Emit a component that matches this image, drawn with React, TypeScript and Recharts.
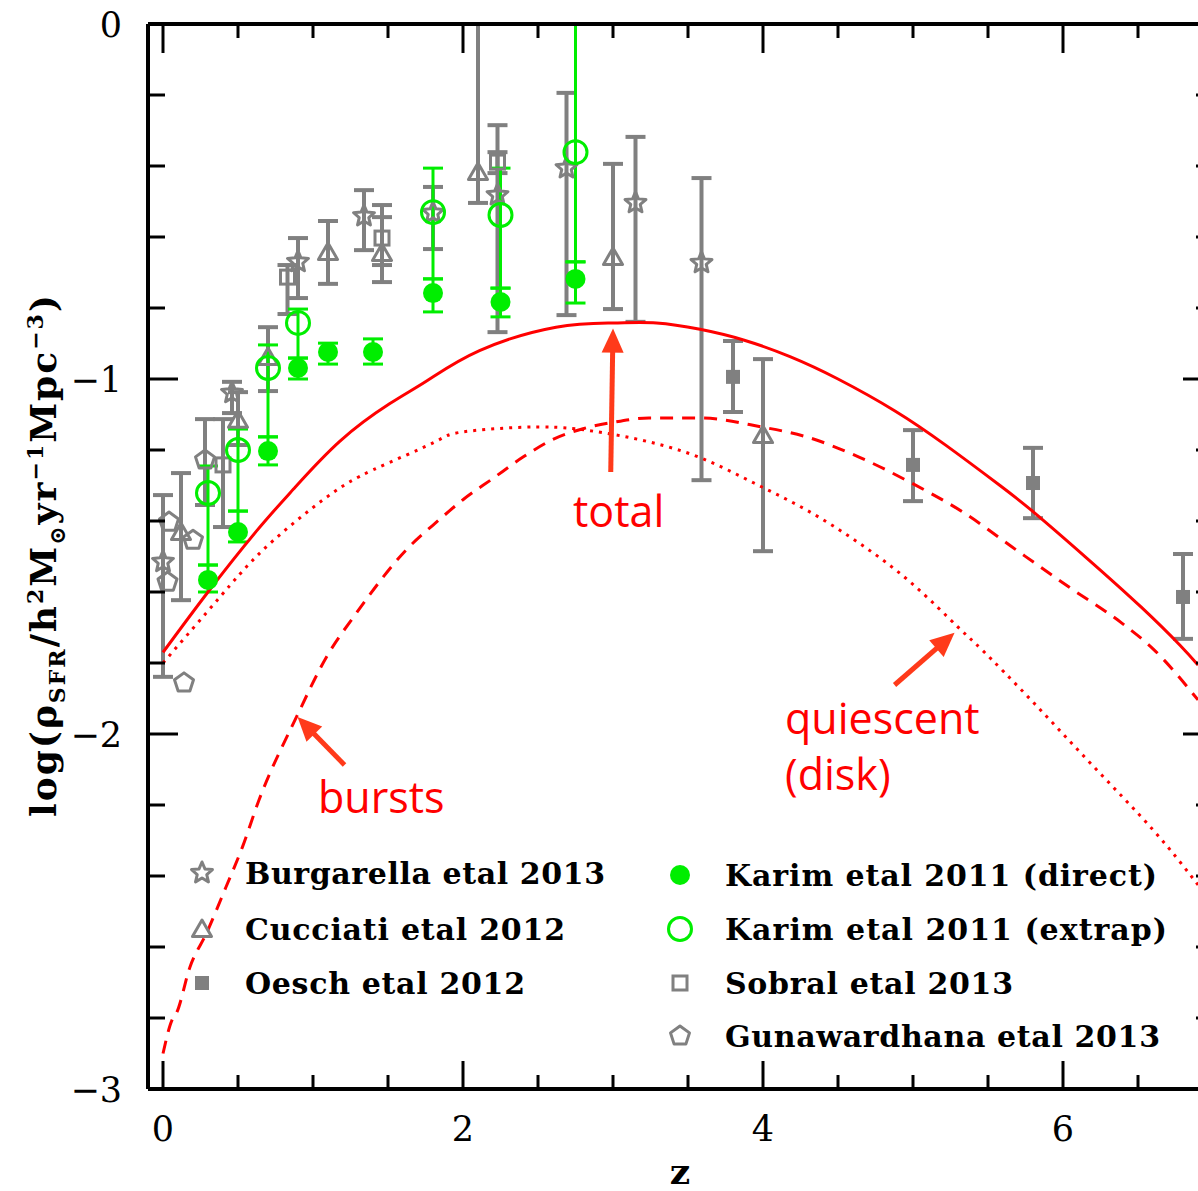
import React from 'react'
import { ComposedChart, Scatter, Line, XAxis, YAxis, ErrorBar, ReferenceLine } from 'recharts'

const GRAY = '#808080'
const GREEN = '#00ee00'
const RED = '#ff0000'
const ARROW = '#ff3a1a'

// axis ticks
const xTicks = [0, 0.5, 1, 1.5, 2, 2.5, 3, 3.5, 4, 4.5, 5, 5.5, 6, 6.5]
const xLabels = ['0', '2', '4', '6']
const yTicks = [-3, -2.8, -2.6, -2.4, -2.2, -2, -1.8, -1.6, -1.4, -1.2, -1, -0.8, -0.6, -0.4, -0.2, 0]
const yLabels = ['−3', '−2', '−1', '0']

// Burgarella etal 2013
const burgZ = [0.0, 0.46, 0.9, 1.34, 1.8, 2.23, 2.69, 3.15, 3.59]
const burgY = [-1.515, -1.039, -0.67, -0.541, -0.532, -0.482, -0.406, -0.504, -0.673]
const burgLo = [-1.839, -1.096, -0.772, -0.637, -0.634, -0.868, -0.82, -0.839, -1.285]
const burgHi = [-1.327, -1.008, -0.603, -0.468, -0.459, -0.285, -0.194, -0.318, -0.434]

// Cucciati etal 2012
const cucZ = [0.12, 0.5, 0.7, 1.1, 1.46, 2.1, 3.0, 4.0]
const cucY = [-1.431, -1.115, -0.938, -0.642, -0.645, -0.417, -0.656, -1.158]
const cucLo = [-1.623, -1.186, -1.034, -0.732, -0.679, -0.504, -0.803, -1.485]
const cucHi = [-1.265, -1.037, -0.854, -0.555, -0.544, 0, -0.394, -0.944]

// Oesch etal 2012
const oeschZ = [3.8, 5.0, 5.8, 6.8]
const oeschY = [-0.994, -1.242, -1.293, -1.614]
const oeschLo = [-1.093, -1.344, -1.392, -1.732]
const oeschHi = [-0.893, -1.144, -1.194, -1.493]

// Sobral etal 2013
const sobZ = [0.4, 0.83, 1.46, 2.23]
const sobY = [-1.242, -0.713, -0.603, -0.389]
const sobLo = [-1.417, -0.817, -0.727, -0.42]
const sobHi = [-1.113, -0.679, -0.51, -0.361]

// Gunawardhana etal 2013
const gunZ = [0.04, 0.03, 0.14, 0.2]
const gunY = [-1.403, -1.572, -1.856, -1.454]
const gunErrZ = [0.28]
const gunErrY = [-1.228]
const gunErrLo = [-1.355]
const gunErrHi = [-1.113]

// Karim etal 2011 (direct)
const kdZ = [0.3, 0.5, 0.7, 0.9, 1.1, 1.4, 1.8, 2.25, 2.75]
const kdY = [-1.566, -1.431, -1.203, -0.969, -0.924, -0.924, -0.758, -0.783, -0.718]
const kdLo = [-1.6, -1.459, -1.242, -1.0, -0.958, -0.958, -0.811, -0.825, -0.786]
const kdHi = [-1.524, -1.372, -1.163, -0.941, -0.899, -0.887, -0.718, -0.744, -0.67]

// Karim etal 2011 (extrap)
const keZ = [0.3, 0.5, 0.7, 0.9, 1.8, 2.25, 2.75]
const keY = [-1.321, -1.2, -0.969, -0.842, -0.53, -0.538, -0.361]
const keLo = [-1.524, -1.372, -1.163, -0.941, -0.718, -0.744, -0.67]
const keHi = [-1.245, -1.141, -0.904, -0.803, -0.406, -0.406, 0]

// model curves
const totalZ = [0, 0.3, 0.62, 0.87, 1.18, 1.51, 1.76, 2.11, 2.62, 3.0, 3.29, 3.58, 3.87, 4.18, 4.5, 4.88, 5.22, 5.58, 5.81, 6.16, 6.52, 6.78, 6.9]
const totalY = [-1.77, -1.6, -1.43, -1.31, -1.175, -1.07, -1.005, -0.92, -0.854, -0.842, -0.842, -0.86, -0.89, -0.937, -1.0, -1.09, -1.187, -1.3, -1.377, -1.505, -1.642, -1.75, -1.806]
const quietZ = [0, 0.38, 0.62, 0.87, 1.13, 1.4, 1.8, 2.0, 2.5, 2.9, 3.24, 3.59, 3.94, 4.29, 4.64, 4.99, 5.3, 5.46, 5.8, 6.2, 6.6, 6.9]
const quietY = [-1.8, -1.614, -1.501, -1.406, -1.321, -1.256, -1.18, -1.149, -1.135, -1.149, -1.177, -1.223, -1.293, -1.369, -1.462, -1.575, -1.699, -1.763, -1.91, -2.09, -2.27, -2.425]
const burstZ = [0, 0.06, 0.09, 0.18, 0.29, 0.42, 0.53, 0.64, 0.89, 1.09, 1.29, 1.62, 1.84, 2.0, 2.2, 2.4, 2.6, 2.8, 3.0, 3.24, 3.59, 3.99, 4.29, 4.64, 4.99, 5.34, 5.69, 6.04, 6.39, 6.6, 6.9]
const burstY = [-2.9, -2.806, -2.786, -2.656, -2.561, -2.431, -2.318, -2.186, -1.952, -1.783, -1.659, -1.482, -1.397, -1.34, -1.28, -1.22, -1.17, -1.14, -1.122, -1.11, -1.11, -1.135, -1.163, -1.22, -1.293, -1.377, -1.482, -1.586, -1.687, -1.76, -1.904]

// annotation arrows: [tail, tip]
const totalArrow = [{ x: 2.985, y: -1.262 }, { x: 3.0, y: -0.858 }]
const burstArrow = [{ x: 1.21, y: -2.087 }, { x: 0.897, y: -1.952 }]
const quietArrow = [{ x: 4.877, y: -1.862 }, { x: 5.277, y: -1.715 }]

const pts = (z: number[], y: number[], lo?: number[], hi?: number[]) =>
  z.map((zz, i) => ({
    z: zz,
    y: y[i],
    err: lo && hi ? [y[i] - lo[i], hi[i] - y[i]] : undefined,
  }))

const line = (z: number[], y: number[]) => z.map((zz, i) => ({ z: zz, y: y[i] }))

// symbols
const polyPts = (cx: number, cy: number, n: number, rOut: number, rIn?: number) => {
  const out: string[] = []
  const k = rIn ? n * 2 : n
  for (let i = 0; i < k; i++) {
    const r = rIn && i % 2 === 1 ? rIn : rOut
    const a = -Math.PI / 2 + (i * 2 * Math.PI) / k
    out.push(`${cx + r * Math.cos(a)},${cy + r * Math.sin(a)}`)
  }
  return out.join(' ')
}

const StarSym = ({ cx, cy }: any) => (
  <polygon points={polyPts(cx, cy, 5, 11, 5)} fill="none" stroke={GRAY} strokeWidth={3} strokeLinejoin="round" />
)
const TriSym = ({ cx, cy }: any) => (
  <polygon points={polyPts(cx, cy + 2, 3, 11)} fill="none" stroke={GRAY} strokeWidth={3} strokeLinejoin="round" />
)
const FSqSym = ({ cx, cy }: any) => <rect x={cx - 7} y={cy - 7} width={14} height={14} fill={GRAY} />
const OSqSym = ({ cx, cy }: any) => (
  <rect x={cx - 7} y={cy - 7} width={14} height={14} fill="none" stroke={GRAY} strokeWidth={3} />
)
const PentSym = ({ cx, cy }: any) => (
  <polygon points={polyPts(cx, cy, 5, 10)} fill="none" stroke={GRAY} strokeWidth={3} strokeLinejoin="round" />
)
const FCircSym = ({ cx, cy }: any) => <circle cx={cx} cy={cy} r={10} fill={GREEN} />
const OCircSym = ({ cx, cy }: any) => <circle cx={cx} cy={cy} r={11.5} fill="none" stroke={GREEN} strokeWidth={3} />

const ArrowShape = (props: any) => {
  const { x1, y1, x2, y2 } = props
  const dx = x2 - x1
  const dy = y2 - y1
  const len = Math.sqrt(dx * dx + dy * dy)
  const ux = dx / len
  const uy = dy / len
  const hl = 24
  const hw = 11
  const bx = x2 - ux * hl
  const by = y2 - uy * hl
  return (
    <g>
      <line x1={x1} y1={y1} x2={bx + ux * 4} y2={by + uy * 4} stroke={ARROW} strokeWidth={5} />
      <polygon
        points={`${x2},${y2} ${bx - uy * hw},${by + ux * hw} ${bx + uy * hw},${by - ux * hw}`}
        fill={ARROW}
      />
    </g>
  )
}

const isMajor = (v: number) => Math.abs(v - Math.round(v)) < 1e-6
const TICK_FONT = '"DejaVu Serif", serif'

const BottomTick = ({ x, y, payload }: any) => {
  const v = payload.value
  const major = isMajor(v) && Math.round(v) % 2 === 0
  return (
    <g>
      <line x1={x} y1={y} x2={x} y2={y - (major ? 28 : 14)} stroke="#000" strokeWidth={3} />
      {major && (
        <text x={x} y={y + 52} textAnchor="middle" fontSize={35} fontFamily={TICK_FONT} fill="#000">
          {xLabels[Math.round(v) / 2]}
        </text>
      )}
    </g>
  )
}
const TopTick = ({ x, y, payload }: any) => {
  const v = payload.value
  const major = isMajor(v) && Math.round(v) % 2 === 0
  return <line x1={x} y1={y} x2={x} y2={y + (major ? 29 : 14)} stroke="#000" strokeWidth={3} />
}
const LeftTick = ({ x, y, payload }: any) => {
  const v = payload.value
  const major = isMajor(v)
  return (
    <g>
      <line x1={x} y1={y} x2={x + (major ? 30 : 17)} y2={y} stroke="#000" strokeWidth={3} />
      {major && (
        <text x={x - 26} y={y + 13} textAnchor="end" fontSize={35} fontFamily={TICK_FONT} fill="#000">
          {yLabels[Math.round(v) + 3]}
        </text>
      )}
    </g>
  )
}
const RightTick = ({ x, y, payload }: any) => {
  const major = isMajor(payload.value)
  return <line x1={x} y1={y} x2={x - (major ? 30 : 17)} y2={y} stroke="#000" strokeWidth={3} />
}

const LEG_FONT = '"DejaVu Serif", serif'
const legendLeft = [
  { label: 'Burgarella etal 2013', Sym: StarSym, y: 873, w: 360 },
  { label: 'Cucciati etal 2012', Sym: TriSym, y: 929, w: 320 },
  { label: 'Oesch etal 2012', Sym: FSqSym, y: 983, w: 280 },
]
const legendRight = [
  { label: 'Karim etal 2011 (direct)', Sym: FCircSym, y: 875, w: 432 },
  { label: 'Karim etal 2011 (extrap)', Sym: OCircSym, y: 929, w: 442 },
  { label: 'Sobral etal 2013', Sym: OSqSym, y: 983, w: 288 },
  { label: 'Gunawardhana etal 2013', Sym: PentSym, y: 1036, w: 435 },
]

const Overlay = () => (
  <svg width={1198} height={1191} style={{ position: 'absolute', left: 0, top: 0, pointerEvents: 'none' }}>
    {legendLeft.map(({ label, Sym, y, w }) => (
      <g key={label}>
        <Sym cx={202} cy={y} />
        <text x={245} y={y + 11} fontSize={30} fontWeight="bold" fontFamily={LEG_FONT} textLength={w} lengthAdjust="spacing">
          {label}
        </text>
      </g>
    ))}
    {legendRight.map(({ label, Sym, y, w }) => (
      <g key={label}>
        <Sym cx={680} cy={y} />
        <text x={725} y={y + 11} fontSize={30} fontWeight="bold" fontFamily={LEG_FONT} textLength={w} lengthAdjust="spacing">
          {label}
        </text>
      </g>
    ))}
    <text x={680} y={1184} textAnchor="middle" fontSize={36} fontWeight="bold" fontFamily={TICK_FONT}>z</text>
    <text
      transform="translate(56,555) rotate(-90)"
      textAnchor="middle"
      fontSize={36}
      fontWeight="bold"
      letterSpacing={2}
      fontFamily={TICK_FONT}
    >
      log(ρ<tspan fontSize={22} dy={9}>SFR</tspan>
      <tspan dy={-9}>/h</tspan>
      <tspan fontSize={22} dy={-13}>2</tspan>
      <tspan dy={13}>M</tspan>
      <tspan fontSize={22} dy={9}>⊙</tspan>
      <tspan dy={-9}>yr</tspan>
      <tspan fontSize={22} dy={-13}>−1</tspan>
      <tspan dy={13}>Mpc</tspan>
      <tspan fontSize={22} dy={-13}>−3</tspan>
      <tspan dy={13}>)</tspan>
    </text>
    <g fill={RED} fontFamily='"Open Sans", sans-serif' fontSize={43}>
      <text x={573} y={527}>total</text>
      <text x={318} y={813}>bursts</text>
      <text x={785} y={734}>quiescent</text>
      <text x={785} y={790}>(disk)</text>
    </g>
  </svg>
)

export default function App() {
  return (
    <div style={{ position: 'absolute', left: 0, top: 0, width: 1198, height: 1191, overflow: 'hidden', background: '#fff' }}>
      <ComposedChart width={1240} height={1191} margin={{ top: 23, right: 7, bottom: 0, left: 0 }}>
        <XAxis
          xAxisId="b"
          type="number"
          dataKey="z"
          domain={[-0.1, 7]}
          allowDataOverflow
          ticks={xTicks}
          interval={0}
          height={102}
          tickSize={0}
          tickMargin={0}
          tickLine={false}
          tick={BottomTick}
          axisLine={{ stroke: '#000', strokeWidth: 4 }}
        />
        <XAxis
          xAxisId="t"
          orientation="top"
          type="number"
          dataKey="z"
          domain={[-0.1, 7]}
          allowDataOverflow
          ticks={xTicks}
          interval={0}
          height={1}
          tickSize={0}
          tickMargin={0}
          tickLine={false}
          tick={TopTick}
          axisLine={{ stroke: '#000', strokeWidth: 4 }}
        />
        <YAxis
          yAxisId="l"
          type="number"
          dataKey="y"
          domain={[-3, 0]}
          allowDataOverflow
          ticks={yTicks}
          interval={0}
          width={148}
          tickSize={0}
          tickMargin={0}
          tickLine={false}
          tick={LeftTick}
          axisLine={{ stroke: '#000', strokeWidth: 4 }}
        />
        <YAxis
          yAxisId="r"
          orientation="right"
          type="number"
          dataKey="y"
          domain={[-3, 0]}
          allowDataOverflow
          ticks={yTicks}
          interval={0}
          width={20}
          tickSize={0}
          tickMargin={0}
          tickLine={false}
          tick={RightTick}
          axisLine={{ stroke: '#000', strokeWidth: 4 }}
        />

        <Scatter xAxisId="b" yAxisId="l" data={pts(gunZ, gunY)} dataKey="y" shape={PentSym} isAnimationActive={false} />
        <Scatter xAxisId="b" yAxisId="l" data={pts(gunErrZ, gunErrY, gunErrLo, gunErrHi)} dataKey="y" shape={PentSym} isAnimationActive={false}>
          <ErrorBar dataKey="err" direction="y" width={10} stroke={GRAY} strokeWidth={4} isAnimationActive={false} />
        </Scatter>
        <Scatter xAxisId="b" yAxisId="l" data={pts(burgZ, burgY, burgLo, burgHi)} dataKey="y" shape={StarSym} isAnimationActive={false}>
          <ErrorBar dataKey="err" direction="y" width={10} stroke={GRAY} strokeWidth={4} isAnimationActive={false} />
        </Scatter>
        <Scatter xAxisId="b" yAxisId="l" data={pts(cucZ, cucY, cucLo, cucHi)} dataKey="y" shape={TriSym} isAnimationActive={false}>
          <ErrorBar dataKey="err" direction="y" width={10} stroke={GRAY} strokeWidth={4} isAnimationActive={false} />
        </Scatter>
        <Scatter xAxisId="b" yAxisId="l" data={pts(sobZ, sobY, sobLo, sobHi)} dataKey="y" shape={OSqSym} isAnimationActive={false}>
          <ErrorBar dataKey="err" direction="y" width={10} stroke={GRAY} strokeWidth={4} isAnimationActive={false} />
        </Scatter>
        <Scatter xAxisId="b" yAxisId="l" data={pts(oeschZ, oeschY, oeschLo, oeschHi)} dataKey="y" shape={FSqSym} isAnimationActive={false}>
          <ErrorBar dataKey="err" direction="y" width={10} stroke={GRAY} strokeWidth={4} isAnimationActive={false} />
        </Scatter>
        <Scatter xAxisId="b" yAxisId="l" data={pts(keZ, keY, keLo, keHi)} dataKey="y" shape={OCircSym} isAnimationActive={false}>
          <ErrorBar dataKey="err" direction="y" width={10} stroke={GREEN} strokeWidth={3} isAnimationActive={false} />
        </Scatter>
        <Scatter xAxisId="b" yAxisId="l" data={pts(kdZ, kdY, kdLo, kdHi)} dataKey="y" shape={FCircSym} isAnimationActive={false}>
          <ErrorBar dataKey="err" direction="y" width={10} stroke={GREEN} strokeWidth={3} isAnimationActive={false} />
        </Scatter>

        <Line xAxisId="b" yAxisId="l" data={line(totalZ, totalY)} dataKey="y" type="natural" stroke={RED} strokeWidth={3} dot={false} isAnimationActive={false} />
        <Line xAxisId="b" yAxisId="l" data={line(burstZ, burstY)} dataKey="y" type="monotone" stroke={RED} strokeWidth={3} strokeDasharray="13 9" dot={false} isAnimationActive={false} />
        <Line xAxisId="b" yAxisId="l" data={line(quietZ, quietY)} dataKey="y" type="natural" stroke={RED} strokeWidth={3} strokeDasharray="3 6" dot={false} isAnimationActive={false} />

        <ReferenceLine xAxisId="b" yAxisId="l" segment={totalArrow} shape={ArrowShape} />
        <ReferenceLine xAxisId="b" yAxisId="l" segment={burstArrow} shape={ArrowShape} />
        <ReferenceLine xAxisId="b" yAxisId="l" segment={quietArrow} shape={ArrowShape} />
      </ComposedChart>
      <Overlay />
    </div>
  )
}
